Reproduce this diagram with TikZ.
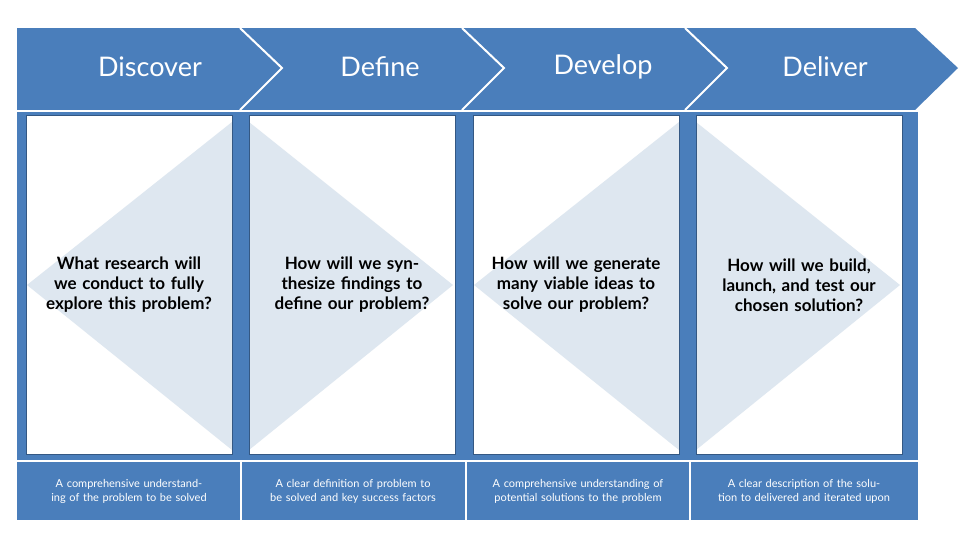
\documentclass[tikz,border=0pt]{standalone}
\usepackage{fontspec}
\setmainfont{Lato}
\definecolor{bl}{HTML}{4A7EBB}
\definecolor{lt}{HTML}{DEE7F0}
\begin{document}
\begin{tikzpicture}[x=1pt,y=-1pt,
 hdr/.style={text=white,font=\fontsize{27}{30}\selectfont},
 q/.style={text=black,font=\fontsize{17}{20}\selectfont\bfseries,align=center,text width=200pt},
 ft/.style={text=white,font=\fontsize{11}{14}\selectfont,align=center,text width=215pt},
 sep/.style={white,line width=2pt}]
\useasboundingbox (0,0) rectangle (975,550);
\fill[white] (0,0) rectangle (975,550);
% band
\fill[bl] (17,28) -- (915,28) -- (958,68) -- (915,110) -- (17,110) -- cycle;
\foreach \x in {240,462,685} \draw[sep] (\x,28) -- (\x+42,68) -- (\x,110);
% body
\fill[bl] (17,110) rectangle (918,520);
\draw[sep] (17,111) -- (918,111);
\draw[sep] (17,461) -- (918,461);
\foreach \x in {241,466,690} \draw[sep] (\x,462) -- (\x,520);
% boxes
\foreach \a/\b [count=\i] in {26/232,249/455,473/679,696/902}{
  \fill[white] (\a,115) rectangle (\b,454);
}
\fill[lt] (27,285) -- (232,122) -- (232,450) -- cycle;
\fill[lt] (249,122) -- (453,285) -- (249,450) -- cycle;
\fill[lt] (474,285) -- (679,122) -- (679,450) -- cycle;
\fill[lt] (696,122) -- (900,285) -- (696,450) -- cycle;
\foreach \a/\b in {26/232,249/455,473/679,696/902}{
  \draw[bl!70!black,line width=0.6pt] (\a,115) rectangle (\b,454);
}
\node[hdr] (h1) at (150,67) {Discover};
\node[hdr] (h2) at (380,67) {Define};
\node[hdr] (h3) at (603,67) {Develop};
\node[hdr] (h4) at (825,67) {Deliver};
\node[q] (q1) at (129,285) {What research will we conduct to fully explore this problem?};
\node[q] (q2) at (352,285) {How will we synthesize findings to define our problem?};
\node[q] (q3) at (576,285) {How will we generate many viable ideas to solve our problem?};
\node[q] (q4) at (799,285) {How will we build, launch, and test our chosen solution?};
\node[ft] (f1) at (129,491) {A comprehensive understanding of the problem to be solved};
\node[ft] (f2) at (353,491) {A clear definition of problem to be solved and key success factors};
\node[ft] (f3) at (578,491) {A comprehensive understanding of potential solutions to the problem};
\node[ft] (f4) at (804,491) {A clear description of the solution to delivered and iterated upon};
\end{tikzpicture}
\end{document}
